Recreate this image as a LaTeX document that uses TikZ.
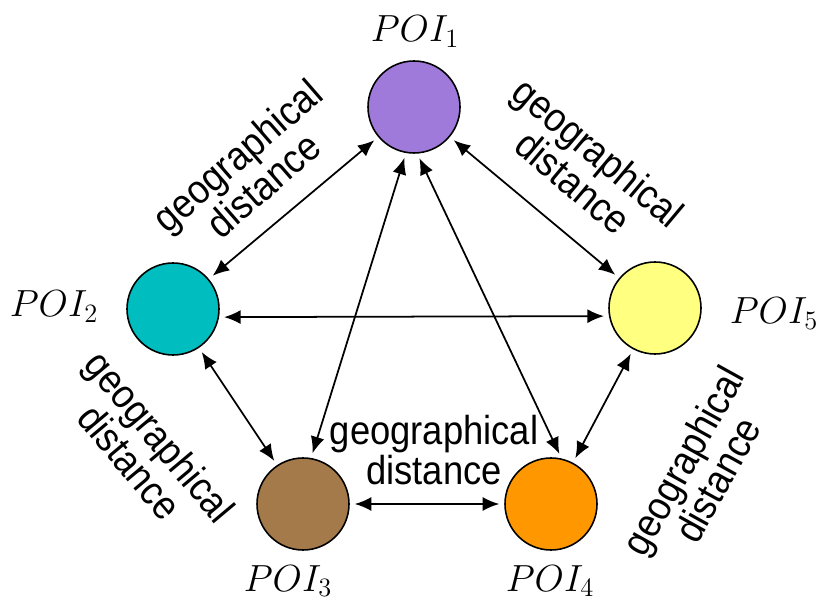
\RequirePackage{fix-cm}
\documentclass[tikz,border=0pt]{standalone}
\usepackage{fontspec}
\usepackage{tikz}
\usetikzlibrary{arrows.meta,positioning}
\newfontfamily\distfont[FakeStretch=0.9]{Liberation Sans}
\definecolor{poiPurple}{RGB}{160,122,218}
\definecolor{poiTeal}{RGB}{0,190,192}
\definecolor{poiBrown}{RGB}{164,122,74}
\definecolor{poiOrange}{RGB}{255,152,0}
\definecolor{poiYellow}{RGB}{255,255,128}

\begin{document}
\begin{tikzpicture}[
    poi/.style={circle, draw, line width=0.9pt, minimum size=1.84cm, inner sep=0pt},
    dist/.style={font=\distfont\fontsize{23}{21}\selectfont, align=center, inner sep=0pt},
    link/.style={{Latex[length=3.3mm,width=2.8mm]}-{Latex[length=3.3mm,width=2.8mm]}, line width=1pt, shorten <=1mm, shorten >=1mm},
    poiname/.style={font=\fontsize{21.5}{25}\selectfont, anchor=base, inner sep=0pt}
]
    \useasboundingbox (0,0) rectangle (16.38,12.04);

    % POIs
    \node[poi, fill=poiPurple] (poi1) at (8.28,9.90) {};
    \node[poi, fill=poiTeal] (poi2) at (3.46,5.86) {};
    \node[poi, fill=poiBrown] (poi3) at (6.06,1.96) {};
    \node[poi, fill=poiOrange] (poi4) at (11.02,1.96) {};
    \node[poi, fill=poiYellow] (poi5) at (13.10,5.88) {};

    % Names
    \node[poiname] (name1) at (8.30,11.20) {$POI_1$};
    \node[poiname] (name2) at (1.08,5.70) {$POI_2$};
    \node[poiname] (name3) at (5.76,0.22) {$POI_3$};
    \node[poiname] (name4) at (11.00,0.22) {$POI_4$};
    \node[poiname] (name5) at (15.48,5.56) {$POI_5$};

    % Arrows
    \draw[link] (poi1) -- (poi2);
    \draw[link] (poi1) -- (poi5);
    \draw[link] (poi1.-100) -- (poi3.80);
    \draw[link] (poi1.-86) -- (poi4.77);
    \draw[link] (poi2.-10) -- (poi5.-170);
    \draw[link] (poi2) -- (poi3);
    \draw[link] (poi3) -- (poi4);
    \draw[link] (poi4) -- (poi5);

    % Distance labels
    \node[dist, rotate=41] (dist12) at (5.00,8.64) {geographical\\distance};
    \node[dist, rotate=-40] (dist15) at (11.72,8.70) {geographical\\distance};
    \node[dist] (dist34) at (8.68,3.04) {geographical\\distance};
    \node[dist, rotate=-50] (dist23) at (2.90,3.06) {geographical\\distance};
    \node[dist, rotate=61] (dist45) at (14.00,2.64) {geographical\\distance};
\end{tikzpicture}
\end{document}
